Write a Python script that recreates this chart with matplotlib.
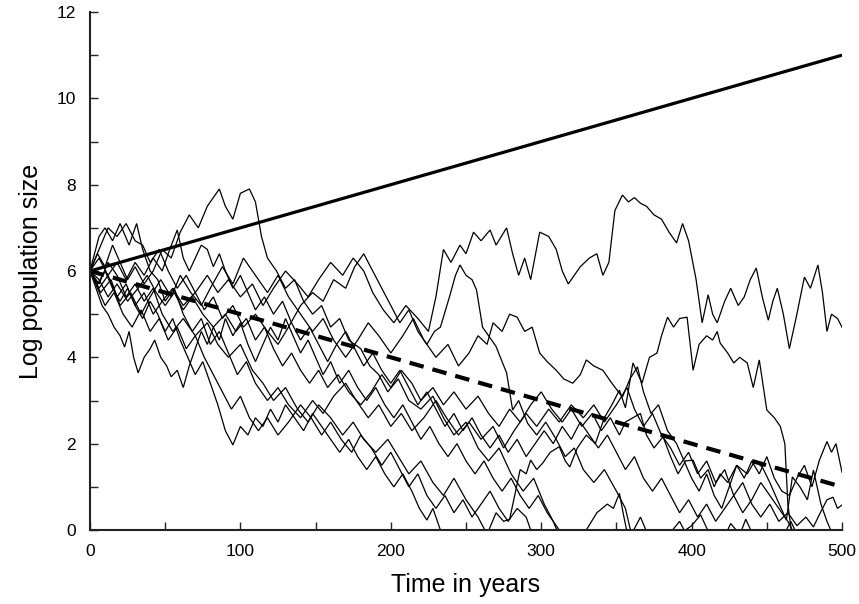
import matplotlib
matplotlib.use("Agg")
import matplotlib.pyplot as plt
from matplotlib.ticker import MultipleLocator

plt.rcParams["font.family"] = ["Liberation Sans", "DejaVu Sans"]

# expected trajectories (start 6, growth +0.01/yr and -0.01/yr)
trend_years = [0, 500]
trend_up = [6.0, 11.0]
trend_down = [6.0, 1.0]

# simulated log population trajectories as (year, value)
path_a = [(0, 6.0), (5, 6.4), (10, 6.1), (15, 6.6), (20, 6.2), (25, 5.8), (30, 6.1), (36, 5.7),
          (42, 6.0), (48, 6.5), (54, 6.3), (60, 6.9), (66, 7.3), (72, 7.0), (78, 7.5), (86, 7.9),
          (90, 7.5), (95, 7.2), (100, 7.8), (106, 7.9), (110, 7.6), (114, 6.8), (118, 6.3),
          (124, 6.0), (130, 5.6), (136, 5.8), (142, 5.3), (148, 5.0), (154, 5.2), (160, 4.7),
          (166, 4.9), (172, 4.4), (180, 4.2), (186, 3.8), (192, 3.6), (198, 3.2), (205, 3.5),
          (212, 3.0), (220, 2.8), (228, 3.1), (235, 2.6), (242, 2.2), (250, 2.5), (258, 1.9),
          (265, 1.6), (272, 1.9), (280, 1.3), (288, 0.9), (295, 1.2), (302, 0.6), (308, 0.2),
          (314, -0.3), (330, -0.6), (360, -0.4), (400, -0.6), (500, -0.5)]

path_b = [(0, 6.0), (6, 5.6), (12, 5.9), (18, 5.4), (24, 5.7), (30, 5.2), (36, 5.5), (42, 5.0),
          (48, 5.3), (55, 5.6), (62, 5.2), (70, 5.5), (78, 5.9), (85, 5.5), (92, 5.8), (100, 5.4),
          (108, 5.7), (115, 5.2), (122, 5.6), (130, 6.0), (138, 5.7), (145, 5.4), (152, 5.8),
          (160, 6.2), (168, 5.9), (175, 6.3), (182, 6.0), (188, 5.5), (195, 5.1), (202, 4.8),
          (210, 5.2), (218, 4.9), (225, 4.6), (230, 5.4), (235, 6.5), (240, 6.2), (246, 6.6),
          (250, 6.4), (255, 6.9), (260, 6.7), (266, 6.95), (270, 6.6), (277, 7.0), (281, 6.4),
          (285, 5.9), (289, 6.3), (293, 5.8), (299, 6.9), (305, 6.8), (310, 6.5), (314, 6.0),
          (318, 5.7), (322, 5.9), (326, 6.1), (332, 6.3), (337, 6.4), (341, 5.9), (345, 6.2),
          (349, 7.4), (354, 7.76), (358, 7.6), (362, 7.7), (366, 7.57), (370, 7.5), (375, 7.3),
          (380, 7.2), (385, 6.9), (390, 6.65), (394, 7.1), (398, 6.7), (403, 5.8), (407, 4.8),
          (411, 5.45), (414, 5.0), (417, 4.8), (422, 5.3), (426, 5.6), (431, 5.2), (435, 5.4),
          (439, 5.8), (443, 6.07), (447, 5.4), (451, 4.86), (454, 5.3), (457, 5.6), (461, 5.0),
          (465, 4.2), (470, 5.0), (475, 5.86), (479, 5.6), (484, 6.14), (487, 5.5), (490, 4.6),
          (493, 5.0), (497, 4.9), (500, 4.7)]

path_c = [(0, 6.0), (6, 5.7), (12, 6.2), (18, 5.9), (24, 5.4), (30, 5.7), (36, 5.3), (42, 5.6),
          (48, 5.0), (55, 4.6), (62, 4.9), (70, 4.5), (78, 4.8), (85, 4.3), (92, 4.0), (100, 4.3),
          (108, 3.7), (115, 3.4), (122, 3.0), (130, 3.3), (138, 2.8), (145, 2.5), (152, 2.9),
          (160, 2.6), (168, 2.2), (175, 2.5), (182, 2.1), (190, 1.8), (198, 2.1), (205, 1.7),
          (212, 1.3), (220, 1.6), (228, 1.1), (235, 0.8), (242, 1.2), (250, 0.7), (258, 0.3),
          (264, -0.1), (270, 0.4), (275, 0.2), (279, 0.25), (283, 0.9), (286, 1.4), (290, 1.3),
          (293, 1.62), (297, 1.4), (301, 1.55), (306, 1.8), (312, 1.93), (316, 1.6), (319, 1.46),
          (324, 1.9), (330, 2.2), (336, 2.0), (342, 2.6), (347, 2.9), (352, 3.24), (356, 2.83),
          (361, 3.87), (367, 3.4), (372, 4.0), (377, 4.1), (380, 4.5), (384, 4.93), (388, 4.7),
          (392, 4.9), (397, 4.93), (401, 3.7), (405, 4.3), (410, 4.5), (414, 4.4), (417, 4.6),
          (419, 4.33), (424, 4.1), (428, 3.87), (432, 4.0), (437, 3.87), (441, 3.3), (445, 3.94),
          (450, 2.78), (455, 2.6), (459, 2.4), (462, 2.0), (464, 0.6), (467, -0.2), (480, -0.6),
          (500, -0.5)]

path_d = [(0, 6.0), (6, 6.5), (12, 7.0), (18, 6.8), (24, 7.1), (30, 6.7), (35, 6.6), (40, 6.2),
          (46, 6.5), (52, 6.0), (58, 5.6), (64, 5.9), (70, 5.5), (76, 5.1), (82, 5.4), (88, 4.9),
          (95, 5.2), (102, 4.7), (110, 5.0), (118, 4.6), (125, 4.3), (132, 4.7), (140, 5.2),
          (148, 5.5), (155, 5.3), (162, 5.8), (170, 5.6), (176, 6.1), (182, 6.4), (188, 6.0),
          (194, 5.6), (200, 5.2), (206, 4.8), (212, 5.1), (218, 4.6), (224, 4.3), (229, 4.6),
          (233, 4.7), (239, 5.4), (243, 5.9), (246, 6.14), (250, 5.9), (254, 5.8), (257, 5.56),
          (261, 4.7), (265, 4.5), (270, 4.25), (274, 3.9), (277, 3.64), (281, 2.78), (285, 3.0),
          (291, 2.47), (297, 2.2), (303, 2.5), (310, 2.1), (316, 1.7), (322, 1.9), (328, 1.4),
          (335, 1.1), (342, 1.4), (350, 0.9), (356, 0.5), (360, -0.1), (366, 0.3), (372, -0.2),
          (390, -0.5), (430, -0.3), (436, 0.25), (442, -0.2), (500, -0.6)]

path_e = [(0, 6.0), (7, 5.5), (14, 5.8), (20, 5.2), (27, 5.5), (34, 5.0), (40, 5.4), (47, 5.8),
          (54, 5.4), (60, 5.9), (67, 5.5), (74, 5.2), (80, 5.6), (88, 6.1), (95, 5.7), (102, 6.3),
          (110, 5.9), (118, 5.5), (125, 5.9), (132, 5.4), (140, 5.0), (148, 4.6), (155, 4.9),
          (162, 4.4), (170, 4.0), (178, 4.4), (185, 4.8), (192, 4.5), (200, 4.1), (208, 4.5),
          (215, 4.9), (222, 4.4), (230, 4.0), (238, 4.3), (245, 3.8), (252, 4.1), (258, 4.5),
          (264, 4.3), (268, 4.8), (274, 4.6), (279, 5.0), (284, 4.93), (289, 4.6), (294, 4.7),
          (299, 4.1), (304, 3.9), (310, 3.7), (315, 3.5), (321, 3.4), (326, 3.6), (330, 3.94),
          (335, 3.8), (341, 3.7), (347, 3.4), (354, 3.08), (359, 3.5), (364, 3.78), (368, 3.2),
          (373, 2.7), (378, 2.9), (384, 2.3), (390, 2.0), (395, 1.6), (400, 1.2), (405, 0.9),
          (410, 1.3), (415, 0.8), (420, 0.5), (425, 1.0), (430, 1.5), (435, 1.2), (440, 1.6),
          (445, 1.3), (450, 1.7), (455, 1.2), (460, 0.9), (465, 0.8), (470, 1.2), (475, 1.5),
          (480, 1.0), (485, 1.62), (490, 2.05), (493, 1.8), (496, 2.0), (500, 1.34)]

path_f = [(0, 6.0), (6, 6.8), (10, 7.0), (15, 6.7), (20, 7.1), (26, 6.6), (31, 7.1), (35, 6.5),
          (40, 6.0), (45, 5.8), (50, 5.3), (56, 5.6), (62, 5.0), (68, 4.6), (74, 4.9), (80, 4.3),
          (86, 4.6), (92, 4.1), (98, 3.6), (104, 3.9), (110, 3.4), (118, 3.0), (125, 3.3),
          (132, 2.9), (140, 2.6), (148, 3.0), (155, 2.7), (162, 3.1), (170, 3.4), (177, 3.0),
          (185, 2.6), (192, 2.9), (200, 2.4), (207, 2.7), (214, 2.3), (222, 2.6), (230, 3.0),
          (237, 2.6), (245, 2.2), (252, 2.5), (260, 2.1), (268, 2.4), (275, 1.9), (282, 2.3),
          (290, 2.7), (297, 2.4), (305, 2.8), (312, 2.5), (320, 2.9), (328, 2.6), (335, 2.9),
          (342, 2.5), (350, 2.9), (357, 3.3), (362, 2.8), (368, 2.4), (374, 2.7), (380, 2.2),
          (386, 1.9), (392, 1.5), (398, 1.8), (404, 1.3), (410, 1.6), (416, 1.1), (422, 1.4),
          (428, 0.8), (434, 1.1), (440, 0.6), (446, 0.3), (452, 0.6), (458, 0.2), (464, 0.4),
          (470, 0.1), (476, 0.3), (481, 0.07), (485, 0.36), (490, 0.7), (494, 0.76), (497, 0.5),
          (500, 0.58)]

path_g = [(0, 6.0), (5, 5.6), (10, 5.2), (16, 5.5), (22, 5.0), (28, 4.7), (34, 5.1), (40, 4.6),
          (46, 4.9), (52, 4.4), (58, 4.7), (64, 4.2), (70, 4.5), (76, 4.0), (82, 3.6), (88, 3.2),
          (94, 2.8), (100, 3.1), (106, 2.6), (112, 2.3), (118, 2.6), (125, 2.2), (132, 2.5),
          (140, 2.9), (147, 2.6), (154, 2.2), (160, 2.5), (167, 2.1), (174, 1.8), (180, 2.2),
          (187, 1.9), (194, 1.5), (200, 1.8), (206, 1.4), (212, 1.0), (218, 1.3), (224, 0.8),
          (230, 0.5), (236, 0.8), (242, 0.4), (248, 0.7), (254, 0.3), (260, 0.6), (266, 0.9),
          (272, 0.5), (278, 0.2), (284, 0.5), (290, 0.3), (296, -0.3), (305, -0.6), (315, -0.5),
          (325, -0.2), (330, 0.0), (337, 0.4), (344, 0.6), (348, 0.5), (352, 0.85), (355, 0.3),
          (358, -0.2), (365, -0.5), (375, -0.3), (385, -0.1), (392, 0.2), (398, -0.2), (408, -0.5),
          (420, -0.3), (426, 0.15), (432, -0.1), (450, -0.4), (460, -0.2), (466, 0.2), (470, -0.1),
          (480, -0.4), (500, -0.3)]

path_h = [(0, 6.0), (6, 5.8), (12, 5.4), (18, 5.7), (25, 5.3), (32, 5.6), (38, 5.9), (44, 5.5),
          (50, 5.2), (56, 5.5), (62, 5.1), (68, 5.4), (75, 5.0), (82, 4.7), (90, 5.0), (97, 4.6),
          (104, 4.9), (110, 4.4), (116, 4.7), (122, 4.2), (128, 3.8), (134, 4.1), (140, 3.7),
          (146, 3.4), (152, 3.7), (158, 3.3), (165, 3.6), (172, 3.2), (180, 2.9), (187, 3.2),
          (194, 3.6), (200, 3.3), (207, 3.7), (214, 3.4), (220, 3.0), (228, 3.3), (235, 2.9),
          (242, 3.2), (250, 2.8), (258, 3.1), (265, 2.7), (272, 2.4), (279, 2.8), (286, 2.5),
          (293, 2.9), (300, 3.2), (307, 2.8), (314, 2.5), (320, 2.8), (327, 2.4), (334, 2.7),
          (340, 2.3), (346, 2.6), (352, 2.2), (356, 2.5), (361, 2.6), (366, 2.7), (370, 2.2),
          (375, 1.9), (381, 2.16), (386, 1.7), (391, 1.3), (396, 1.6), (401, 1.62), (406, 1.2),
          (411, 1.4), (415, 1.0), (419, 1.3), (424, 1.1), (430, 1.5), (437, 1.3), (442, 1.6),
          (447, 1.46), (452, 1.1), (457, 0.7), (463, 0.23), (467, 1.23), (472, 1.0), (477, 0.7),
          (481, 1.39), (486, 0.6), (490, 0.2), (495, -0.2), (500, -0.4)]

path_i = [(0, 6.0), (4, 5.6), (8, 5.2), (12, 5.0), (16, 4.7), (20, 4.5), (23, 4.24), (26, 4.6),
          (29, 4.0), (32, 3.64), (36, 4.0), (40, 4.2), (43, 4.4), (47, 4.0), (51, 3.8), (54, 3.55),
          (58, 3.7), (62, 3.3), (66, 3.8), (70, 4.2), (74, 4.6), (78, 4.3), (82, 4.7), (86, 4.4),
          (90, 4.9), (95, 4.5), (100, 4.8), (105, 4.3), (110, 3.9), (115, 4.3), (120, 4.7),
          (125, 4.4), (130, 4.9), (135, 4.5), (140, 4.1), (145, 4.4), (150, 4.0), (155, 3.6),
          (160, 3.9), (166, 3.4), (172, 3.7), (178, 3.3), (184, 3.0), (190, 3.3), (196, 2.9),
          (202, 2.6), (208, 2.9), (214, 2.5), (220, 2.1), (226, 2.4), (232, 2.0), (238, 1.7),
          (244, 2.0), (250, 1.6), (256, 1.3), (262, 1.6), (268, 1.2), (274, 0.9), (280, 1.2),
          (286, 0.8), (292, 0.5), (298, 0.8), (304, 0.4), (310, 0.1), (316, -0.2), (325, -0.5),
          (380, -0.4), (400, 0.1), (406, 0.35), (412, -0.1), (500, -0.5)]

path_j = [(0, 6.0), (5, 5.7), (10, 6.0), (15, 5.6), (20, 5.3), (25, 5.6), (30, 5.2), (35, 4.9),
          (40, 5.3), (45, 5.0), (50, 4.6), (55, 4.9), (60, 4.4), (65, 4.0), (70, 3.6), (75, 3.9),
          (80, 3.4), (85, 2.9), (90, 2.3), (95, 1.97), (100, 2.4), (105, 2.2), (110, 2.6),
          (115, 2.4), (120, 2.8), (125, 2.5), (130, 2.9), (136, 2.6), (142, 2.3), (148, 2.7),
          (154, 2.4), (160, 2.1), (166, 1.8), (172, 2.1), (178, 1.7), (184, 1.4), (190, 1.7),
          (196, 1.3), (202, 1.0), (208, 1.3), (214, 0.9), (219, 0.5), (224, 0.23), (228, 0.5),
          (232, 0.1), (236, -0.3), (245, -0.6), (300, -0.5), (500, -0.6)]

path_k = [(0, 6.0), (6, 6.3), (12, 5.9), (18, 6.2), (24, 5.8), (30, 6.2), (36, 5.9), (42, 6.3),
          (48, 6.0), (53, 6.5), (58, 6.95), (62, 6.3), (66, 6.0), (70, 6.3), (74, 6.6), (78, 6.5),
          (82, 6.1), (86, 6.4), (90, 6.0), (95, 5.6), (100, 5.9), (105, 5.5), (110, 5.1),
          (116, 5.4), (122, 5.0), (128, 5.3), (134, 4.8), (140, 4.4), (146, 4.7), (152, 4.3),
          (158, 3.9), (164, 4.3), (170, 4.6), (176, 4.2), (182, 3.8), (188, 4.1), (194, 3.7),
          (200, 3.4), (206, 3.7), (212, 3.3), (218, 2.9), (224, 3.2), (230, 2.8), (236, 2.4),
          (242, 2.7), (248, 2.3), (254, 2.6), (260, 2.2), (266, 1.9), (272, 2.2), (278, 1.8),
          (284, 2.1), (290, 1.7), (296, 2.0), (302, 2.3), (308, 2.0), (314, 2.4), (320, 2.1),
          (326, 2.5), (332, 2.2), (338, 1.9), (344, 2.2), (350, 1.8), (356, 1.4), (362, 1.7),
          (368, 1.2), (374, 0.9), (380, 1.2), (386, 0.8), (392, 0.4), (398, 0.7), (404, 0.3),
          (410, 0.6), (416, 0.2), (422, 0.5), (428, 0.8), (434, 0.4), (440, 0.7), (446, 1.1),
          (452, 0.8), (458, 0.5), (464, 0.2), (470, -0.2), (480, -0.4), (500, -0.3)]

paths = [path_a, path_b, path_c, path_d, path_e, path_f, path_g, path_h, path_i, path_j, path_k]

fig = plt.figure(figsize=(8.59, 6.04), dpi=100)
ax = fig.add_axes([90 / 859, 1 - 530 / 604, (842 - 90) / 859, (530 - 12) / 604])

for p in paths:
    xs = [pt[0] for pt in p]
    ys = [pt[1] for pt in p]
    ax.plot(xs, ys, color="black", lw=0.9, solid_joinstyle="miter")

ax.plot(trend_years, trend_up, color="black", lw=2.3, solid_capstyle="butt")
ax.plot(trend_years, trend_down, color="black", lw=3.0, ls=(0, (3.5, 2.2)), dash_capstyle="butt")

ax.set_xlim(0, 500)
ax.set_ylim(0, 12)
for side in ("top", "right"):
    ax.spines[side].set_visible(False)
for side in ("left", "bottom"):
    ax.spines[side].set_linewidth(1.5)
    ax.spines[side].set_color("#222222")

ax.xaxis.set_major_locator(MultipleLocator(100))
ax.xaxis.set_minor_locator(MultipleLocator(50))
ax.yaxis.set_major_locator(MultipleLocator(2))
ax.yaxis.set_minor_locator(MultipleLocator(1))
ax.tick_params(axis="both", which="both", direction="in", width=1.0, color="#222222")
ax.tick_params(axis="both", which="major", length=6, labelsize=12.5)
ax.tick_params(axis="both", which="minor", length=6)
ax.tick_params(axis="x", which="major", pad=10)
ax.tick_params(axis="y", which="major", pad=10)

ax.set_xlabel("Time in years", fontsize=18, labelpad=10)
ax.set_ylabel("Log population size", fontsize=18, labelpad=10)

fig.savefig("out.png", dpi=100)
